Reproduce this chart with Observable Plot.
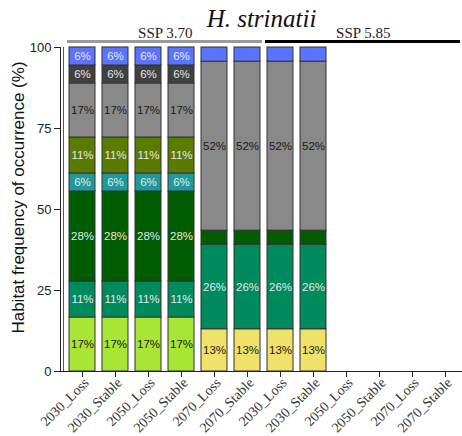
<!DOCTYPE html>
<html>
<head>
<meta charset="utf-8">
<script src="https://cdn.jsdelivr.net/npm/d3@7"></script>
<script src="https://cdn.jsdelivr.net/npm/@observablehq/plot@0.6"></script>
<style>
  body { margin: 0; background: #fff; }
</style>
</head>
<body>
<div id="chart"></div>
<script>
// Scenario groups and periods along the x axis
const scenarios = ["SSP 3.70", "SSP 5.85"];
const periods = ["2030_Loss", "2030_Stable", "2050_Loss", "2050_Stable", "2070_Loss", "2070_Stable"];

// Habitat classes, bottom of the stack first
const classes = ["h1", "h2", "h3", "h4", "h5", "h6", "h7", "h8", "h9"];

// Share of occurrences (%) for each class, one value per bar (SSP 3.70 bars, then SSP 5.85 bars)
const h1 = [0, 0, 0, 0, 13.04, 13.04, 13.04, 13.04, 0, 0, 0, 0];
const h2 = [16.67, 16.67, 16.67, 16.67, 0, 0, 0, 0, 0, 0, 0, 0];
const h3 = [11.11, 11.11, 11.11, 11.11, 26.09, 26.09, 26.09, 26.09, 0, 0, 0, 0];
const h4 = [27.78, 27.78, 27.78, 27.78, 4.35, 4.35, 4.35, 4.35, 0, 0, 0, 0];
const h5 = [5.56, 5.56, 5.56, 5.56, 0, 0, 0, 0, 0, 0, 0, 0];
const h6 = [11.11, 11.11, 11.11, 11.11, 0, 0, 0, 0, 0, 0, 0, 0];
const h7 = [16.67, 16.67, 16.67, 16.67, 52.17, 52.17, 52.17, 52.17, 0, 0, 0, 0];
const h8 = [5.56, 5.56, 5.56, 5.56, 0, 0, 0, 0, 0, 0, 0, 0];
const h9 = [5.56, 5.56, 5.56, 5.56, 4.35, 4.35, 4.35, 4.35, 0, 0, 0, 0];

const yTicks = [0, 25, 50, 75, 100];
const yLabel = "Habitat frequency of occurrence (%)";
const title = "H. strinatii";

// Palette for the classes and which ones take dark label text
const palette = ["#efe16a", "#a8e535", "#008b5f", "#005c00", "#1f999b", "#5a7a00", "#898989", "#404040", "#5b74ff"];
const darkText = new Set(["h1", "h2", "h7"]);

const series = [h1, h2, h3, h4, h5, h6, h7, h8, h9];
const keys = scenarios.flatMap(s => periods.map(p => `${s}|${p}`));
const periodOf = d => d.split("|")[1];

// Stack the segments of each bar
const segments = [];
keys.forEach((key, i) => {
  let acc = 0;
  classes.forEach((c, j) => {
    const v = series[j][i];
    if (v > 0) {
      segments.push({key, cls: c, value: v, y1: acc, y2: acc + v});
      acc += v;
    }
  });
});

// Bracket over each scenario group
const groups = scenarios.map((s, i) => ({
  name: s,
  first: `${s}|${periods[0]}`,
  last: `${s}|${periods[periods.length - 1]}`,
  mid: `${s}|${periods[2]}`,
  color: i === 0 ? "#9a9a9a" : "#000"
}));

const xRange = [65, 461.5];
const padInner = 0.2;
const step = (xRange[1] - xRange[0]) / (keys.length - padInner);

const sans = "'Liberation Sans', Arial, sans-serif";
const serif = "'Liberation Serif', 'Times New Roman', serif";

const chart = Plot.plot({
  width: 462,
  height: 436,
  marginLeft: 60,
  marginRight: 0,
  marginTop: 47,
  marginBottom: 65,
  style: {fontFamily: sans, background: "#fff"},
  x: {domain: keys, range: xRange, paddingInner: padInner, paddingOuter: 0},
  y: {domain: [0, 100]},
  color: {domain: classes, range: palette},
  marks: [
    Plot.rectY(segments, {
      x: "key", y1: "y1", y2: "y2", fill: "cls",
      stroke: "#333", strokeWidth: 1
    }),
    Plot.text(segments.filter(d => d.value >= 5), {
      x: "key", y: d => (d.y1 + d.y2) / 2,
      text: d => `${Math.round(d.value)}%`,
      fill: d => darkText.has(d.cls) ? "#1a1a1a" : "#e6e6e6",
      fontSize: 11.5, fontFamily: sans
    }),
    Plot.frame({anchor: "left", stroke: "#222"}),
    Plot.frame({anchor: "left", dx: 3, stroke: "#555"}),
    Plot.frame({anchor: "bottom", stroke: "#222"}),
    Plot.axisY({
      ticks: yTicks, tickSize: 6, tickPadding: 3, fontSize: 13,
      fontFamily: sans, fill: "#222", stroke: "#222", label: null
    }),
    // x tick marks
    Plot.axisX({tickSize: 6, tickFormat: () => "", stroke: "#222", label: null}),
    // rotated period labels, ending just right of each tick
    Plot.axisX({
      tickFormat: periodOf, tickRotate: -45, tickSize: 0, tickPadding: 8, dx: 4, dy: 1,
      fontSize: 14, fontFamily: serif, fill: "#333", label: null
    }),
    Plot.ruleY(groups, {
      y: () => 100, x1: "first", x2: "last", stroke: "color",
      strokeWidth: 3, dy: -6, insetLeft: -2, insetRight: -2
    }),
    Plot.text(groups, {
      x: "mid", y: () => 100, text: "name", dx: step / 2, dy: -10,
      lineAnchor: "bottom", fontSize: 15, fontFamily: serif, fill: "#222"
    }),
    Plot.text([title], {
      frameAnchor: "top", dy: -21, lineAnchor: "bottom",
      fontSize: 25, fontStyle: "italic", fontFamily: serif, fill: "#111"
    }),
    Plot.text([yLabel], {
      frameAnchor: "left", rotate: -90, dx: -42, dy: -12,
      textAnchor: "middle", lineAnchor: "middle",
      fontSize: 17, fontFamily: sans, fill: "#111"
    })
  ]
});

document.getElementById("chart").appendChild(chart);
</script>
</body>
</html>
